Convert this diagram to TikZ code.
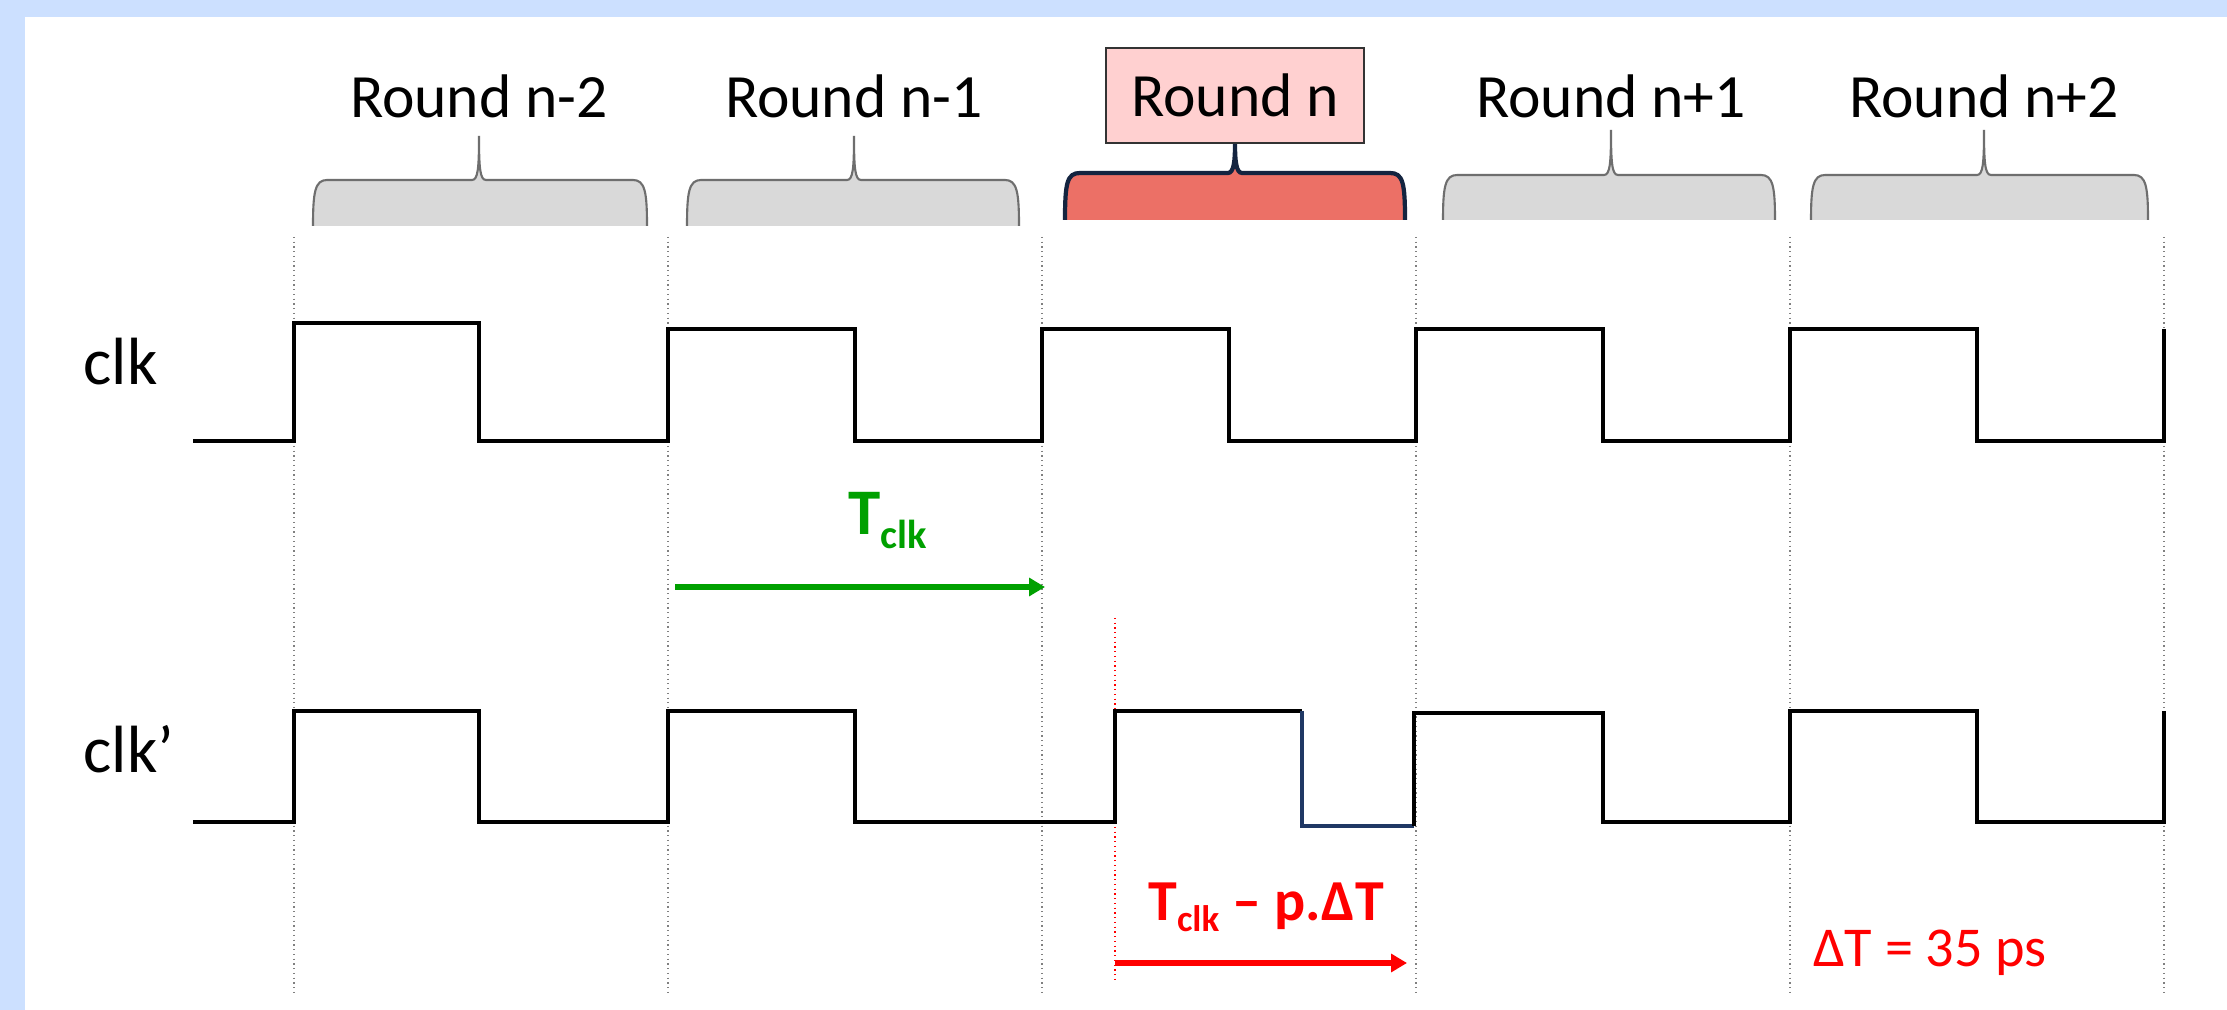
\documentclass[tikz,border=0pt]{standalone}
\usepackage{fontspec}
\setmainfont{Carlito}
\usetikzlibrary{arrows.meta}

\definecolor{framebg}{RGB}{204,224,255}
\definecolor{bracegray}{RGB}{217,217,217}
\definecolor{braceedge}{RGB}{110,110,110}
\definecolor{bracered}{RGB}{236,112,102}
\definecolor{braceink}{RGB}{20,36,64}
\definecolor{boxpink}{RGB}{255,208,208}
\definecolor{tclkgreen}{RGB}{0,160,0}
\definecolor{lowblue}{RGB}{32,56,100}

\newcommand{\lowidx}[2][11]{\raisebox{-0.2em}{\fontsize{#1}{#1}\selectfont #2}}

\begin{document}
\begin{tikzpicture}[x=0.01cm, y=-0.01cm,
    wave/.style={line width=0.95pt},
    grid line/.style={gray, line width=0.35pt, densely dotted},
    brace shape/.style={fill=bracegray, draw=braceedge, line width=0.6pt},
    round label/.style={anchor=base, inner sep=0pt, font=\fontsize{17.5}{21}\selectfont},
    sig label/.style={anchor=base west, inner sep=0pt, font=\fontsize{19}{22}\selectfont},
    period/.style={line width=1.7pt, -{Triangle[length=4.5pt,width=5pt]}}]

    % Frame:
    \fill[framebg] (0,0) rectangle (2227,1010);
    \fill[white] (25,17) rectangle (2227,1010);
    \useasboundingbox (0,0) rectangle (2227,1010);

    % Round boundaries, one per clock period:
    \foreach \x in {294,668,...,2164}
        \draw[grid line] (\x,237) -- (\x,994);
    \draw[red, line width=0.35pt, densely dotted] (1115,618) -- (1115,980);

    % Braces and names of the rounds:
    \foreach \xa/\xt/\xb/\yt/\yb/\yp/\rn [count=\i] in {313/479/647/180/226/136/n-2, 687/854/1019/180/226/136/n-1, 1443/1611/1775/175/220/130/n+1, 1811/1984/2148/175/220/130/n+2}{
        \path[brace shape] (\xa,\yb) .. controls (\xa,\yt+12) and (\xa+2,\yt) .. (\xa+14,\yt)
            -- (\xt-7,\yt) .. controls (\xt-1,\yt) and (\xt,\yt-12) .. (\xt,\yp)
            .. controls (\xt,\yt-12) and (\xt+1,\yt) .. (\xt+7,\yt)
            -- (\xb-14,\yt) .. controls (\xb-2,\yt) and (\xb,\yt+12) .. (\xb,\yb);
        \node[round label] (lbl\i) at (\xt,118) {Round \rn};
    }

    % Round n is highlighted:
    \node[draw=black!80, fill=boxpink, line width=0.5pt, minimum width=2.58cm, minimum height=0.95cm,
          inner sep=0pt, anchor=south, font=\fontsize{17.5}{21}\selectfont] (round-n) at (1235,144) {Round n};
    \path[fill=bracered, draw=braceink, line width=1.2pt] (1065,220) .. controls (1065,183) and (1067,173) .. (1080,173)
        -- (1228,173) .. controls (1234,173) and (1235,160) .. (round-n.south)
        .. controls (1235,160) and (1236,173) .. (1242,173)
        -- (1390,173) .. controls (1403,173) and (1405,183) .. (1405,220);

    % Signals:
    \node[sig label] (clk) at (83,385) {clk};
    \node[sig label] (clk-d) at (83,773) {clk’};

    \draw[wave] (193,441) -- (294,441) |- (479,323) |- (668,441)
        foreach \x in {668,1042,1416,1790} { |- (\x+187,329) |- (\x+374,441) } -- (2164,329);

    \draw[wave] (193,822) -- (294,822) |- (479,711) |- (668,822) |- (855,711) |- (1115,822) |- (1302,711);
    \draw[wave, lowblue] (1302,711) |- (1414,826);
    \draw[wave] (1414,826) |- (1603,713) |- (1790,822) |- (1977,711) |- (2164,822) -- (2164,711);

    % Periods:
    \coordinate (g-start) at (675,587);
    \coordinate (g-end) at (1045,587);
    \draw[period, tclkgreen] (g-start) -- (g-end);
    \node[anchor=base, inner sep=0pt, text=tclkgreen, font=\bfseries\fontsize{18.5}{22}\selectfont] (tclk) at (888,535) {T\lowidx[11.5]{clk}};

    \coordinate (r-start) at (1115,963);
    \coordinate (r-end) at (1407,963);
    \draw[period, red] (r-start) -- (r-end);
    \node[anchor=base, inner sep=0pt, text=red, font=\bfseries\fontsize{16.5}{20}\selectfont] (tshift) at (1266,920) {T\lowidx[10.5]{clk} – p.ΔT};

    \node[anchor=base, inner sep=0pt, text=red, font=\fontsize{16}{19}\selectfont] (dt) at (1930,966) {ΔT = 35 ps};
\end{tikzpicture}
\end{document}
